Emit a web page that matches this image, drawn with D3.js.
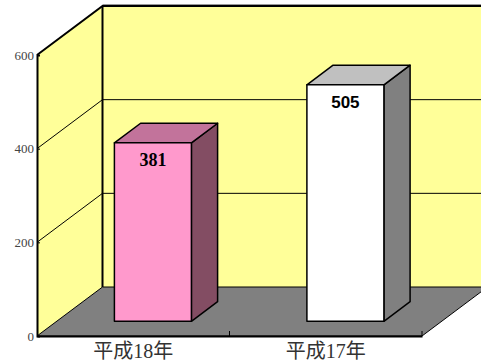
<!DOCTYPE html>
<html><head><meta charset="utf-8">
<script src="https://cdn.jsdelivr.net/npm/d3@7"></script>
<style>body{margin:0;background:#fff}svg{display:block}</style>
</head><body>
<script>
const categories = ["平成18年", "平成17年"];
const values = [381, 505];
const frontColors = ["#ff99cc", "#ffffff"];
const topColors = ["#c2739b", "#c0c0c0"];
const sideColors = ["#834d63", "#808080"];
const yTicks = [0, 200, 400, 600];

const W = 481, H = 363;
const svg = d3.select("body").append("svg").attr("width", W).attr("height", H);

const x0 = 37, x1 = 422;
const DX = 65.5, DY = -49;
const y = d3.scaleLinear().domain([0, 600]).range([336, 55]);
const x = d3.scaleBand().domain(categories).range([x0, x1]).paddingInner(0).paddingOuter(0);
const pts = a => a.map(p => p.join(",")).join(" ");

// back wall
svg.append("polygon").attr("points", pts([[x0+DX, y(0)+DY],[x0+DX, y(600)+DY],[x1+DX, y(600)+DY],[x1+DX, y(0)+DY]]))
  .attr("fill", "#ffff99");
// left wall
svg.append("polygon").attr("points", pts([[x0, y(0)],[x0, y(600)],[x0+DX, y(600)+DY],[x0+DX, y(0)+DY]]))
  .attr("fill", "#ffff99");
// floor
svg.append("polygon").attr("points", pts([[x0, y(0)],[x1, y(0)],[x1+DX, y(0)+DY],[x0+DX, y(0)+DY]]))
  .attr("fill", "#808080").attr("stroke", "#000").attr("stroke-width", 1);

// gridlines
yTicks.filter(t => t > 0 && t < 600).forEach(t => {
  svg.append("polyline").attr("points", pts([[x0, y(t)],[x0+DX, y(t)+DY],[x1+DX+10, y(t)+DY]]))
    .attr("fill", "none").attr("stroke", "#000").attr("stroke-width", 1);
});
// top edges
svg.append("polyline").attr("points", pts([[x0, y(600)],[x0+DX, y(600)+DY],[x1+DX+10, y(600)+DY]]))
  .attr("fill", "none").attr("stroke", "#000").attr("stroke-width", 2);
svg.append("line").attr("x1", x0+DX).attr("x2", x1+DX+10).attr("y1", y(600)+DY-1.5).attr("y2", y(600)+DY-1.5)
  .attr("stroke", "#999").attr("stroke-width", 1);
// back-left vertical edge
svg.append("line").attr("x1", x0+DX).attr("x2", x0+DX).attr("y1", y(600)+DY).attr("y2", y(0)+DY)
  .attr("stroke", "#000").attr("stroke-width", 2);

// bars
const bw = x.bandwidth() * 0.4;
const d0 = 0.3, d1 = 0.7;
categories.forEach((c, i) => {
  const fx = x(c) + (x.bandwidth() - bw) / 2 + d0 * DX;
  const fyb = y(0) + d0 * DY;
  const fyt = y(values[i]) + d0 * DY;
  const ddx = (d1 - d0) * DX, ddy = (d1 - d0) * DY;
  const g = svg.append("g").attr("stroke", "#000").attr("stroke-width", 1.5).attr("stroke-linejoin", "round");
  g.append("polygon").attr("points", pts([[fx+bw, fyb],[fx+bw+ddx, fyb+ddy],[fx+bw+ddx, fyt+ddy],[fx+bw, fyt]]))
    .attr("fill", sideColors[i]);
  g.append("polygon").attr("points", pts([[fx, fyt],[fx+bw, fyt],[fx+bw+ddx, fyt+ddy],[fx+ddx, fyt+ddy]]))
    .attr("fill", topColors[i]);
  g.append("rect").attr("x", fx).attr("y", fyt).attr("width", bw).attr("height", fyb - fyt)
    .attr("fill", frontColors[i]);
  svg.append("text").attr("x", fx + bw / 2).attr("y", fyt + 23).attr("text-anchor", "middle")
    .attr("font-family", i === 0 ? "Liberation Serif, serif" : "Liberation Sans, Arial, sans-serif")
    .attr("font-weight", "bold").attr("font-size", i === 0 ? 18 : 17).attr("fill", "#000")
    .text(values[i]);
});

// y axis
const yAxis = d3.axisLeft(y).tickValues(yTicks).tickSize(-3).tickPadding(3).tickFormat(d3.format("d"));
const ya = svg.append("g").attr("transform", `translate(${x0},0)`).call(yAxis);
ya.select(".domain").attr("stroke", "#000").attr("stroke-width", 2);
ya.selectAll(".tick line").attr("stroke", "#000");
ya.selectAll("text").attr("font-family", "Liberation Serif, serif").attr("font-size", 13).attr("fill", "#444");

// x axis
const xAxis = d3.axisBottom(x).tickSize(0).tickPadding(8);
const xa = svg.append("g").attr("transform", `translate(0,${y(0)})`).call(xAxis);
xa.select(".domain").attr("stroke", "#000").attr("stroke-width", 2);
xa.selectAll("text").attr("font-family", "Liberation Serif, Noto Sans CJK JP, serif").attr("font-size", 20).attr("fill", "#333");
// category separator ticks (inward)
[x0 + x.bandwidth(), x1].forEach(tx => {
  svg.append("line").attr("x1", tx).attr("x2", tx).attr("y1", y(0) - 5).attr("y2", y(0)).attr("stroke", "#000");
});
</script>
</body></html>
